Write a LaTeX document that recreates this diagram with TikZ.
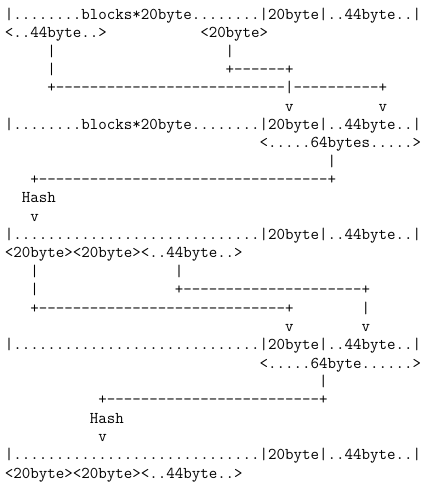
\documentclass[tikz,border=0pt]{standalone}
\usepackage{fontspec}
% size the typewriter face so that one character cell is 8.49pt wide
\newlength\cellwd
\settowidth\cellwd{\ttfamily\fontsize{16pt}{18pt}\selectfont 0}
\pgfmathsetmacro\asciisize{16*8.49/\cellwd}
\tikzset{
  ascii/.style={font=\ttfamily\fontsize{\asciisize pt}{18pt}\selectfont,
    inner sep=0pt, outer sep=0pt, anchor=base west, text=black}
}
\begin{document}
\begin{tikzpicture}
\useasboundingbox[fill=white] (0,0) rectangle (424pt,-487pt);
% one unit = one character cell (x) / one text row (y)
\begin{scope}[shift={(5pt,-19.3pt)}, x=8.49pt, y=-18.36pt]
% first buffer and the two pieces taken from it
\node[ascii] (r0) at (0,0) {|........blocks*20byte........|20byte|..44byte..|};
\node[ascii] (r1a) at (0,1) {<..44byte..>};
\node[ascii] (r1b) at (23,1) {<20byte>};
\node[ascii] (r2a) at (5,2) {|};
\node[ascii] (r2b) at (26,2) {|};
\node[ascii] (r3a) at (5,3) {|};
\node[ascii] (r3b) at (26,3) {+------+};
\node[ascii] (r4) at (5,4) {+---------------------------|----------+};
\node[ascii] (r5a) at (33,5) {v};
\node[ascii] (r5b) at (44,5) {v};
% second buffer and its 64 byte tail
\node[ascii] (r6) at (0,6) {|........blocks*20byte........|20byte|..44byte..|};
\node[ascii] (r7) at (30,7) {<.....64bytes.....>};
\node[ascii] (r8) at (38,8) {|};
\node[ascii] (r9) at (3,9) {+----------------------------------+};
\node[ascii] (r10) at (2,10) {Hash};
\node[ascii] (r11) at (3,11) {v};
% third buffer
\node[ascii] (r12) at (0,12) {|.............................|20byte|..44byte..|};
\node[ascii] (r13) at (0,13) {<20byte><20byte><..44byte..>};
\node[ascii] (r14a) at (3,14) {|};
\node[ascii] (r14b) at (20,14) {|};
\node[ascii] (r15a) at (3,15) {|};
\node[ascii] (r15b) at (20,15) {+---------------------+};
\node[ascii] (r16a) at (3,16) {+-----------------------------+};
\node[ascii] (r16b) at (42,16) {|};
\node[ascii] (r17a) at (33,17) {v};
\node[ascii] (r17b) at (42,17) {v};
% fourth buffer and its 64 byte tail
\node[ascii] (r18) at (0,18) {|.............................|20byte|..44byte..|};
\node[ascii] (r19) at (30,19) {<.....64byte......>};
\node[ascii] (r20) at (37,20) {|};
\node[ascii] (r21) at (11,21) {+-------------------------+};
\node[ascii] (r22) at (10,22) {Hash};
\node[ascii] (r23) at (11,23) {v};
% final buffer
\node[ascii] (r24) at (0,24) {|.............................|20byte|..44byte..|};
\node[ascii] (r25) at (0,25) {<20byte><20byte><..44byte..>};
\end{scope}
\end{tikzpicture}
\end{document}
